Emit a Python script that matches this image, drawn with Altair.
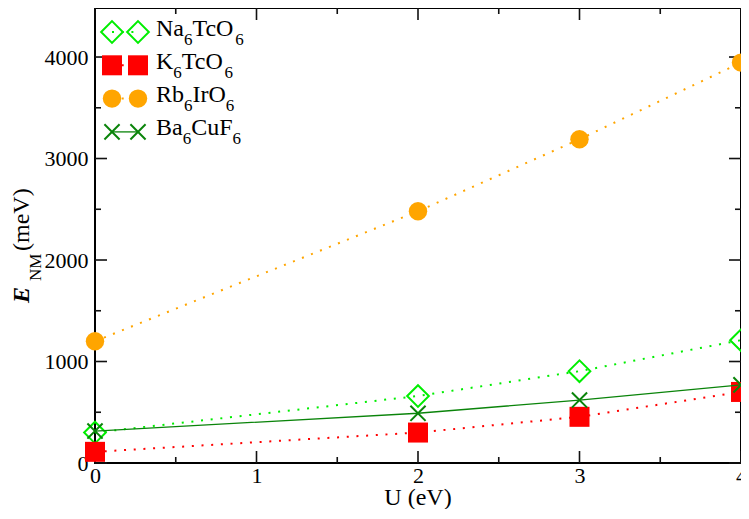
import re
import altair as alt
import pandas as pd

# ---------------- data ----------------
U = [0, 2, 3, 4]
series = ["Na6TcO6", "K6TcO6", "Rb6IrO6", "Ba6CuF6"]
na_vals = [300, 660, 905, 1210]
k_vals = [110, 300, 455, 700]
rb_vals = [1200, 2480, 3190, 3945]
ba_vals = [315, 490, 620, 770]
x_ticks = [0, 1, 2, 3, 4]
x_minor = [0.5, 1.5, 2.5, 3.5]
y_ticks = [0, 1000, 2000, 3000, 4000]
y_minor = [500, 1500, 2500, 3500]
x_title = "U (eV)"
y_title_parts = ["E", "NM", "(meV)"]

vals = dict(zip(series, [na_vals, k_vals, rb_vals, ba_vals]))

# ---------------- styles ----------------
W, H = 646, 455
YMAX = 4483
FONT = "'Liberation Serif', 'DejaVu Serif', serif"
XMARK = "M-1,-1L1,1M1,-1L-1,1"
style = {
    "Na6TcO6": dict(color="#00ee00", shape="diamond", filled=False, size=470, sw=2.0,
                    dash=[2, 7.7], lw=2.0),
    "K6TcO6": dict(color="#ff0000", shape="square", filled=True, size=400, sw=0,
                   dash=[2, 7.7], lw=2.0),
    "Rb6IrO6": dict(color="#ffa500", shape="circle", filled=True, size=340, sw=0,
                    dash=[2, 7.7], lw=2.0),
    "Ba6CuF6": dict(color="#0a840a", shape=XMARK, filled=False, size=230, sw=2.0,
                    dash=None, lw=1.3),
}

x_enc = alt.X("U:Q", scale=alt.Scale(domain=[0, 4], nice=False, zero=False),
              axis=alt.Axis(values=x_ticks, format="d", ticks=False, tickSize=0, domain=False,
                            grid=False, title=None, labelFont=FONT, labelFontSize=22,
                            labelColor="black", labelPadding=2, labelFlush=False,
                            labelOverlap=False))
y_enc = alt.Y("E:Q", scale=alt.Scale(domain=[0, YMAX], nice=False, zero=False),
              axis=alt.Axis(values=y_ticks, format="d", ticks=False, tickSize=0, domain=False,
                            grid=False, title=None, labelFont=FONT, labelFontSize=22,
                            labelColor="black", labelPadding=7, labelFlush=False,
                            labelOverlap=False))

layers = []

# inward ticks (drawn through the scales)
def xticks(vs, length):
    d = pd.DataFrame({"U": vs})
    bot = alt.Chart(d).mark_rule(color="#111", strokeWidth=1.6).encode(
        x=x_enc, y=alt.value(H), y2=alt.value(H - length))
    top = alt.Chart(d).mark_rule(color="#111", strokeWidth=1.6).encode(
        x=x_enc, y=alt.value(0), y2=alt.value(length))
    return [bot, top]

def yticks(vs, length):
    d = pd.DataFrame({"E": vs})
    left = alt.Chart(d).mark_rule(color="#111", strokeWidth=1.6).encode(
        y=y_enc, x=alt.value(0), x2=alt.value(length))
    right = alt.Chart(d).mark_rule(color="#111", strokeWidth=1.6).encode(
        y=y_enc, x=alt.value(W), x2=alt.value(W - length))
    return [left, right]

layers += xticks(x_ticks, 12) + xticks(x_minor, 6)
layers += yticks(y_ticks, 12) + yticks(y_minor, 6)

# series
for s in series:
    st = style[s]
    d = pd.DataFrame({"U": U, "E": vals[s]})
    lkw = dict(color=st["color"], strokeWidth=st["lw"], clip=False)
    if st["dash"]:
        lkw["strokeDash"] = st["dash"]
    layers.append(alt.Chart(d).mark_line(**lkw).encode(x=x_enc, y=y_enc))
    pkw = dict(shape=st["shape"], size=st["size"], filled=st["filled"], color=st["color"],
               opacity=1, clip=False)
    if not st["filled"]:
        pkw["strokeWidth"] = st["sw"]
    layers.append(alt.Chart(d).mark_point(**pkw).encode(x=x_enc, y=y_enc))

# legend
one = pd.DataFrame({"a": [0]})
widths = {'N': .722, 'a': .444, 'T': .611, 'c': .444, 'O': .722, 'K': .722, 'R': .667,
          'b': .5, 'I': .333, 'r': .333, 'B': .667, 'u': .5, 'C': .667, 'F': .556}
FS_MAIN, FS_SUB = 24, 17
sym_x = [17, 43]
text_x0 = 61
row_y0, row_step = 24, 33.3

def text_layer(txt, x, y, size, angle=0, align="left", weight="normal", style_="normal"):
    kw = dict(font=FONT, fontSize=size, color="black", align=align, baseline="alphabetic",
              fontWeight=weight, fontStyle=style_)
    if angle:
        kw["angle"] = angle
    return alt.Chart(one).mark_text(**kw).encode(
        x=alt.value(x), y=alt.value(y), text=alt.value(txt))

for i, s in enumerate(series):
    st = style[s]
    cy = row_y0 + i * row_step
    rkw = dict(color=st["color"], strokeWidth=st["lw"])
    if st["dash"]:
        rkw["strokeDash"] = st["dash"]
    layers.append(alt.Chart(one).mark_rule(**rkw).encode(
        x=alt.value(sym_x[0]), x2=alt.value(sym_x[1]), y=alt.value(cy)))
    for sx in sym_x:
        pkw = dict(shape=st["shape"], size=st["size"], filled=st["filled"],
                   color=st["color"], opacity=1)
        if not st["filled"]:
            pkw["strokeWidth"] = st["sw"]
        layers.append(alt.Chart(one).mark_point(**pkw).encode(
            x=alt.value(sx), y=alt.value(cy)))
    base = cy + 3.5
    x = text_x0
    for piece in re.findall(r"\d+|\D+", s):
        if piece.isdigit():
            layers.append(text_layer(piece, x, base + 9, FS_SUB))
            x += 0.5 * FS_SUB * len(piece)
        else:
            layers.append(text_layer(piece, x, base, FS_MAIN))
            x += sum(widths.get(c, 0.5) for c in piece) * FS_MAIN

# axis titles
layers.append(text_layer(x_title, W / 2, H + 42, 24, align="center"))
layers.append(text_layer(y_title_parts[0], -66, 295, 24, angle=270, weight="bold",
                         style_="italic"))
layers.append(text_layer(y_title_parts[1], -54, 273, 17, angle=270))
layers.append(text_layer(y_title_parts[2], -66, 243, 24, angle=270))

chart = alt.layer(*layers).properties(
    width=W, height=H,
    autosize=alt.AutoSizeParams(type="none"),
    padding={"left": 87, "top": 0, "right": 0, "bottom": 46},
    background="white",
).configure_view(stroke="black", strokeWidth=2)

chart.save("out.html", embed_options={"renderer": "svg", "actions": False})
